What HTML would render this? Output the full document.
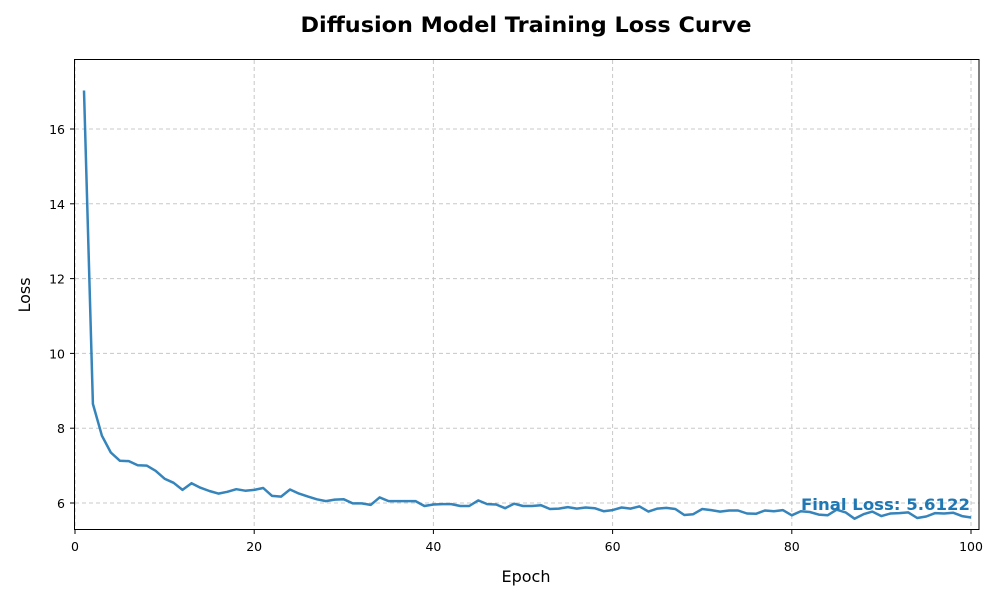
<!DOCTYPE html>
<html><head><meta charset="utf-8"><style>
body{margin:0;background:#fff;font-family:"DejaVu Sans","Liberation Sans",sans-serif}
svg text{font-family:"DejaVu Sans","Liberation Sans",sans-serif}
</style></head><body>
<svg id="chart" width="1000" height="600" xmlns="http://www.w3.org/2000/svg">
<rect width="1000" height="600" fill="#fff"/>
<text x="526" y="32" text-anchor="middle" font-size="21" font-weight="bold" fill="#000" textLength="451" lengthAdjust="spacingAndGlyphs">Diffusion Model Training Loss Curve</text>
<g id="grid"></g>
<g id="ticks" font-size="12.5" fill="#000"></g>
<g id="plot"></g>
<rect x="74.5" y="59.5" width="904.5" height="470" fill="none" stroke="#000" stroke-width="1"/>
<text x="526" y="582" text-anchor="middle" font-size="16">Epoch</text>
<text x="30" y="295" text-anchor="middle" font-size="16" transform="rotate(-90 30 295)">Loss</text>
<text x="970" y="510" text-anchor="end" font-size="16" font-weight="bold" fill="#1f77b4" textLength="169" lengthAdjust="spacingAndGlyphs">Final Loss: 5.6122</text>
</svg>
<script>
const lossValues=[17.03,8.65,7.8,7.35,7.13,7.12,7.01,7.0,6.86,6.65,6.54,6.35,6.53,6.41,6.32,6.25,6.3,6.37,6.33,6.35,6.4,6.19,6.17,6.36,6.25,6.17,6.1,6.05,6.09,6.1,5.99,5.99,5.95,6.15,6.05,6.05,6.05,6.05,5.92,5.96,5.97,5.97,5.92,5.92,6.07,5.97,5.96,5.86,5.98,5.92,5.92,5.94,5.84,5.85,5.89,5.85,5.88,5.86,5.78,5.81,5.88,5.85,5.91,5.77,5.85,5.87,5.84,5.68,5.7,5.84,5.81,5.77,5.8,5.8,5.72,5.71,5.8,5.78,5.81,5.67,5.78,5.76,5.69,5.67,5.82,5.75,5.58,5.7,5.77,5.65,5.72,5.73,5.75,5.6,5.64,5.73,5.72,5.74,5.65,5.6122];
const xTicks=[0,20,40,60,80,100];
const yTicks=[6,8,10,12,14,16];
const NS="http://www.w3.org/2000/svg";
const X=v=>75+v*8.96;
const Y=v=>503-(v-6)*37.4;
const grid=document.getElementById('grid'),ticks=document.getElementById('ticks'),plot=document.getElementById('plot');
function mk(t,a,p){const e=document.createElementNS(NS,t);for(const k in a)e.setAttribute(k,a[k]);p.appendChild(e);return e;}
xTicks.forEach(t=>{
 const g=mk('line',{x1:X(t),x2:X(t),y1:60,y2:529,stroke:'#c8c8c8','stroke-dasharray':'4,3'},grid);
 
 
 const tk=mk('line',{x1:X(t),x2:X(t),y1:529,y2:534,stroke:'#000'},ticks);
 
 
 const l=mk('text',{x:X(t),y:551,'text-anchor':'middle'},ticks);l.textContent=t;
 
 
});
yTicks.forEach(t=>{
 const g=mk('line',{x1:75,x2:979,y1:Y(t),y2:Y(t),stroke:'#c8c8c8','stroke-dasharray':'4,3'},grid);
 
 
 const tk=mk('line',{x1:70,x2:75,y1:Y(t),y2:Y(t),stroke:'#000'},ticks);
 
 
 const l=mk('text',{x:65,y:Y(t)+5,'text-anchor':'end'},ticks);l.textContent=t;
 
 
});
const pts=lossValues.map((v,i)=>X(i+1).toFixed(1)+','+Y(v).toFixed(1)).join(' ');
const line=mk('polyline',{points:pts,fill:'none',stroke:'#1f77b4','stroke-width':2.5,'stroke-opacity':0.9,'stroke-linejoin':'round'},plot);


</script>
</body></html>
